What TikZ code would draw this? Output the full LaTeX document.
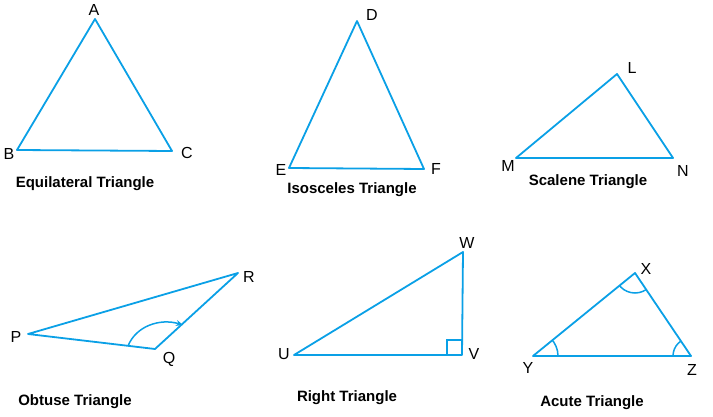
\documentclass[tikz,border=0pt]{standalone}
\usepackage{fontspec}
\setmainfont{Liberation Sans}
\usetikzlibrary{arrows.meta}
\definecolor{tri}{RGB}{10,160,230}
\tikzset{
  side/.style={draw=tri, line width=1.8pt, line join=round},
  lbl/.style={font=\fontsize{16}{18}\selectfont, inner sep=0pt},
  title/.style={font=\bfseries\fontsize{15}{17}\selectfont, inner sep=0pt},
  anglemark/.style={draw=tri, line width=1.5pt}
}
\begin{document}
\begin{tikzpicture}[x=1pt,y=-1pt]
\useasboundingbox (0,0) rectangle (713,417);
% Equilateral
\coordinate (A) at (95,19); \coordinate (B) at (17,150); \coordinate (C) at (172,151);
\draw[side] (A) -- (B) -- (C) -- cycle;
\node[lbl] (lA) at (94,10) {A};
\node[lbl] (lB) at (9,154) {B};
\node[lbl] (lC) at (187,153) {C};
\node[title] (t1) at (85,184) {Equilateral Triangle};
% Isosceles
\coordinate (D) at (357,21); \coordinate (E) at (289,168); \coordinate (F) at (424,169);
\draw[side] (D) -- (E) -- (F) -- cycle;
\node[lbl] (lD) at (372,15) {D};
\node[lbl] (lE) at (281,170) {E};
\node[lbl] (lF) at (436,169) {F};
\node[title] (t2) at (352,190) {Isosceles Triangle};
% Scalene
\coordinate (L) at (617,74); \coordinate (M) at (516,158); \coordinate (N) at (673,158);
\draw[side] (L) -- (M) -- (N) -- cycle;
\node[lbl] (lL) at (632,68) {L};
\node[lbl] (lM) at (508,166) {M};
\node[lbl] (lN) at (683,171) {N};
\node[title] (t3) at (588,182) {Scalene Triangle};
% Obtuse
\coordinate (P) at (28,334); \coordinate (R) at (238,273); \coordinate (Q) at (155,349);
\draw[side] (P) -- (R) -- (Q) -- cycle;
\coordinate (o1) at (128,346); \coordinate (o2) at (183,325);
\draw[anglemark, -{Stealth[length=7pt,width=6pt]}] (o1) .. controls (136,326) and (160,318) .. (o2);
\node[lbl] (lP) at (16,337) {P};
\node[lbl] (lR) at (249,277) {R};
\node[lbl] (lQ) at (169,359) {Q};
\node[title] (t4) at (75,402) {Obtuse Triangle};
% Right
\coordinate (U) at (294,355); \coordinate (W) at (463,252); \coordinate (V) at (462,355);
\draw[side] (U) -- (W) -- (V) -- cycle;
\draw[anglemark] ([xshift=-15pt]V) -- ([xshift=-15pt,yshift=15pt]V) -- ([yshift=15pt]V);
\node[lbl] (lU) at (284,354) {U};
\node[lbl] (lW) at (467,243) {W};
\node[lbl] (lV) at (474,354) {V};
\node[title] (t5) at (347,398) {Right Triangle};
% Acute
\coordinate (X) at (635,273); \coordinate (Y) at (533,356); \coordinate (Z) at (691,356);
\draw[side] (X) -- (Y) -- (Z) -- cycle;
\begin{scope}
\clip (X) -- (Y) -- (Z) -- cycle;
\draw[anglemark] (Y) circle[radius=25];
\draw[anglemark] (X) circle[radius=20];
\draw[anglemark] (Z) circle[radius=18];
\end{scope}
\node[lbl] (lX) at (646,269) {X};
\node[lbl] (lY) at (528,368) {Y};
\node[lbl] (lZ) at (692,370) {Z};
\node[title] (t6) at (592,403) {Acute Triangle};
\end{tikzpicture}
\end{document}
